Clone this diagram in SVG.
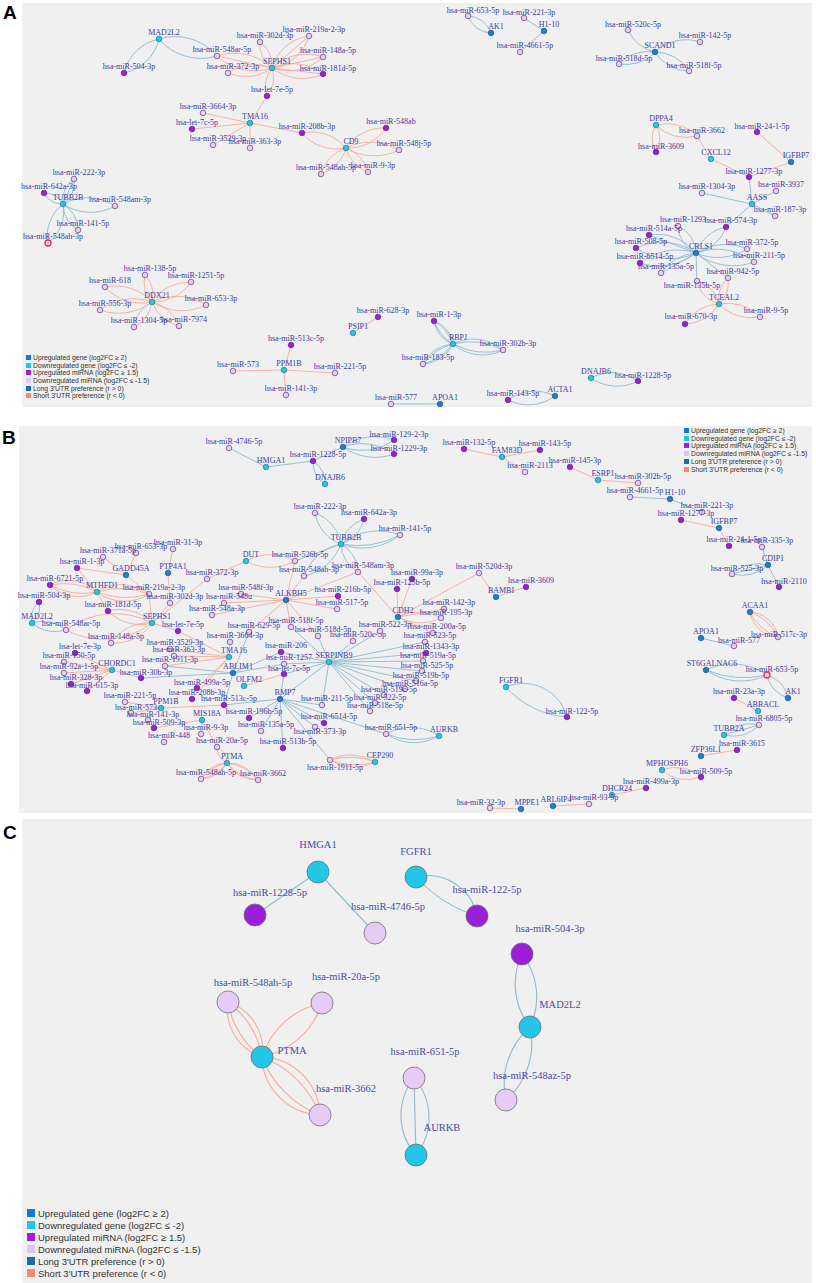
<svg xmlns="http://www.w3.org/2000/svg" width="816" height="1283" viewBox="0 0 816 1283">
<style>
.pa{fill:#f0f0f0}
.pl{font-family:"Liberation Sans",Arial,sans-serif;font-weight:bold;font-size:19px;fill:#000}
.e{fill:none;stroke-width:0.9}
.l{stroke:#8fbad0}
.s{stroke:#f8aa9c}
.ec{fill:none;stroke-width:1.1}
.ug{fill:#1a7fd6;stroke:#1b4a6e;stroke-width:0.6}
.dg{fill:#22c6e6;stroke:#1d6878;stroke-width:0.6}
.um{fill:#9b1fd9;stroke:#4b1a70;stroke-width:0.6}
.dm{fill:#e6ccf4;stroke:#6e4f86;stroke-width:0.8}
.rr{fill:#f2d6e6;stroke:#f0304c;stroke-width:1.3}
.nd text{font-family:"Liberation Serif","DejaVu Serif",serif;font-size:8px;fill:#3a3aa8;text-anchor:middle}
.nc text{font-family:"Liberation Serif","DejaVu Serif",serif;font-size:10.5px;fill:#4a4aa8;text-anchor:middle}
.nc circle{stroke:#707070;stroke-width:0.8}
.lg text{font-family:"Liberation Sans",Arial,sans-serif;fill:#333}
</style>
<rect width="816" height="1283" fill="#fff"/>
<rect class="pa" x="22" y="3" width="790" height="404"/>
<rect class="pa" x="19" y="426" width="793" height="387"/>
<rect class="pa" x="22" y="819" width="790" height="464"/>
<text class="pl" x="3" y="19">A</text>
<text class="pl" x="2" y="444">B</text>
<text class="pl" x="3" y="839">C</text>

<g id="connectors">
<g id="edgesA">
<path class="e l" d="M159 39A45 45 0 0 0 124 73M159 39A45 45 0 0 1 124 73"/>
<path class="e l" d="M159 39A55 55 0 0 0 217 56M159 39A55 55 0 0 1 217 56"/>
<path class="e l" d="M63 204A25 25 0 0 0 74 179M63 204A25 25 0 0 1 74 179M63 204L74 179"/>
<path class="e l" d="M63 204A20 20 0 0 0 44 193M63 204A20 20 0 0 1 44 193"/>
<path class="e l" d="M63 204A50 50 0 0 0 115 206M63 204A50 50 0 0 1 115 206"/>
<path class="e l" d="M63 204A30 30 0 0 0 78 230M63 204A30 30 0 0 1 78 230"/>
<path class="e l" d="M63 204A40 40 0 0 0 48 243M63 204A40 40 0 0 1 48 243"/>
<path class="e l" d="M491 33A25 25 0 0 0 468 16M491 33A25 25 0 0 1 468 16"/>
<path class="e l" d="M544 31L524 18M544 31L520 52"/>
<path class="e l" d="M655 52A40 40 0 0 1 628 30"/>
<path class="e l" d="M655 52A45 45 0 0 1 700 42"/>
<path class="e l" d="M655 52A40 40 0 0 0 619 64M655 52A40 40 0 0 1 619 64"/>
<path class="e l" d="M655 52A40 40 0 0 0 689 71M655 52A40 40 0 0 1 689 71"/>
<path class="e l" d="M752 204L749 177M752 204L702 193M752 204L776 191M752 204L775 216M752 204L726 227"/>
<path class="e l" d="M696 253A30 30 0 0 0 678 226M696 253A30 30 0 0 1 678 226"/>
<path class="e l" d="M696 253A40 40 0 0 0 726 227M696 253A40 40 0 0 1 726 227"/>
<path class="e l" d="M696 253A50 50 0 0 0 649 235M696 253L649 235"/>
<path class="e l" d="M696 253A60 60 0 0 0 636 248M696 253A60 60 0 0 1 636 248"/>
<path class="e l" d="M696 253A55 55 0 0 0 747 249M696 253A55 55 0 0 1 747 249"/>
<path class="e l" d="M696 253A60 60 0 0 0 640 263M696 253A60 60 0 0 1 640 263"/>
<path class="e l" d="M696 253A60 60 0 0 0 754 262M696 253A60 60 0 0 1 754 262"/>
<path class="e l" d="M696 253A45 45 0 0 0 661 273M696 253L661 273"/>
<path class="e l" d="M696 253L728 278M696 253L697 281"/>
<path class="e l" d="M453 344A28 28 0 0 0 434 321M453 344A28 28 0 0 1 434 321M453 344A45 45 0 0 0 434 321M453 344A45 45 0 0 1 434 321"/>
<path class="e l" d="M453 344A45 45 0 0 0 503 350M453 344A45 45 0 0 1 503 350M453 344A70 70 0 0 0 503 350M453 344A70 70 0 0 1 503 350"/>
<path class="e l" d="M453 344A35 35 0 0 0 423 364M453 344A35 35 0 0 1 423 364M453 344A55 55 0 0 0 423 364M453 344A55 55 0 0 1 423 364"/>
<path class="e l" d="M591 378A45 45 0 0 0 638 381M591 378A45 45 0 0 1 638 381"/>
<path class="e l" d="M555 396A45 45 0 0 0 508 400M555 396A45 45 0 0 1 508 400"/>
<path class="e l" d="M440 404L391 404"/>
<path class="e s" d="M272 68A55 55 0 0 0 217 56M272 68A55 55 0 0 1 217 56M272 68L217 56"/>
<path class="e s" d="M272 68A28 28 0 0 0 260 42M272 68A28 28 0 0 1 260 42"/>
<path class="e s" d="M272 68A45 45 0 0 0 309 36M272 68A45 45 0 0 1 309 36M272 68L309 36"/>
<path class="e s" d="M272 68A50 50 0 0 0 323 57M272 68A50 50 0 0 1 323 57M272 68L323 57"/>
<path class="e s" d="M272 68A45 45 0 0 0 228 73M272 68A45 45 0 0 1 228 73"/>
<path class="e s" d="M272 68A50 50 0 0 0 323 74M272 68A50 50 0 0 1 323 74M272 68L323 74"/>
<path class="e s" d="M272 68A30 30 0 0 0 267 96M272 68A30 30 0 0 1 267 96"/>
<path class="e s" d="M250 123L267 96M250 123L203 113M250 123L192 129M250 123L213 145M250 123L250 148M250 123L302 133"/>
<path class="e s" d="M346 148A45 45 0 0 0 302 133M346 148A45 45 0 0 1 302 133"/>
<path class="e s" d="M346 148A45 45 0 0 0 386 128M346 148A45 45 0 0 1 386 128"/>
<path class="e s" d="M346 148A55 55 0 0 0 399 150M346 148A55 55 0 0 1 399 150"/>
<path class="e s" d="M346 148A38 38 0 0 0 321 174M346 148A38 38 0 0 1 321 174"/>
<path class="e s" d="M346 148A35 35 0 0 0 368 172M346 148A35 35 0 0 1 368 172"/>
<path class="e s" d="M152 302A30 30 0 0 0 145 275M152 302A30 30 0 0 1 145 275"/>
<path class="e s" d="M152 302A45 45 0 0 0 191 282M152 302A45 45 0 0 1 191 282"/>
<path class="e s" d="M152 302A50 50 0 0 0 105 287M152 302A50 50 0 0 1 105 287"/>
<path class="e s" d="M152 302A55 55 0 0 0 206 305M152 302A55 55 0 0 1 206 305"/>
<path class="e s" d="M152 302A55 55 0 0 0 100 310M152 302A55 55 0 0 1 100 310"/>
<path class="e s" d="M152 302A32 32 0 0 0 134 327M152 302A32 32 0 0 1 134 327"/>
<path class="e s" d="M152 302A38 38 0 0 0 179 326M152 302A38 38 0 0 1 179 326"/>
<path class="e s" d="M284 370L291 345M284 370L233 371M284 370L335 373M284 370L286 395M353 333L378 317"/>
<path class="e s" d="M656 125A42 42 0 0 0 697 136M656 125A42 42 0 0 1 697 136"/>
<path class="e s" d="M656 125A25 25 0 0 0 656 152M656 125A25 25 0 0 1 656 152"/>
<path class="e s" d="M711 159L697 136M711 159L749 177M791 162L749 177M791 162L757 132"/>
<path class="e s" d="M719 304A30 30 0 0 0 697 281M719 304A30 30 0 0 1 697 281"/>
<path class="e s" d="M719 304A30 30 0 0 0 728 278M719 304A30 30 0 0 1 728 278"/>
<path class="e s" d="M719 304A40 40 0 0 0 685 324M719 304A40 40 0 0 1 685 324"/>
<path class="e s" d="M719 304A45 45 0 0 0 760 317M719 304A45 45 0 0 1 760 317"/>
</g>
<g id="edgesB">
<path class="e l" d="M266 467L229 448M266 467L313 461M343 447L313 461"/>
<path class="e l" d="M313 461A25 25 0 0 0 325 484M313 461A25 25 0 0 1 325 484"/>
<path class="e l" d="M343 447A55 55 0 0 0 394 440M343 447A55 55 0 0 1 394 440"/>
<path class="e l" d="M343 447A55 55 0 0 0 394 454M343 447A55 55 0 0 1 394 454"/>
<path class="e l" d="M341 544A40 40 0 0 0 315 513M341 544A40 40 0 0 1 315 513"/>
<path class="e l" d="M341 544A35 35 0 0 0 364 519M341 544A35 35 0 0 1 364 519"/>
<path class="e l" d="M341 544A60 60 0 0 0 400 535M341 544A60 60 0 0 1 400 535M341 544A90 90 0 0 0 400 535"/>
<path class="e l" d="M341 544A33 33 0 0 0 358 572M341 544A33 33 0 0 1 358 572"/>
<path class="e l" d="M341 544A50 50 0 0 0 304 576M341 544A50 50 0 0 1 304 576M341 544L295 561"/>
<path class="e l" d="M670 499L630 497M670 499L702 512"/>
<path class="e l" d="M768 565L762 547M768 565L779 587M768 565L732 574M768 565A38 38 0 0 0 732 574M768 565A38 38 0 0 1 732 574"/>
<path class="e l" d="M701 638L734 646"/>
<path class="e l" d="M706 670A60 60 0 0 0 767 675M706 670A60 60 0 0 1 767 675M706 670A100 100 0 0 0 767 675"/>
<path class="e l" d="M788 698A30 30 0 0 0 767 675M788 698A30 30 0 0 1 767 675"/>
<path class="e l" d="M724 735A35 35 0 0 0 759 725M724 735A35 35 0 0 1 759 725M724 735L759 725"/>
<path class="e l" d="M329 662L291 627M329 662L318 636M329 662L353 641M329 662L380 631M329 662L425 642M329 662L426 653M329 662L423 661M329 662L422 671M329 662L416 681M329 662L405 689M329 662L384 695M329 662L375 703M329 662L370 711M329 662L322 705M329 662L284 664M329 662L281 652M329 662L284 674"/>
<path class="e l" d="M233 673L249 632M233 673L281 652M233 673L284 664M233 673L165 666M233 673L141 678M233 673L224 705"/>
<path class="e l" d="M280 699L224 705M280 699L249 718M280 699L261 731M280 699L283 748M280 699L322 705M280 699L324 723M280 699L315 727M280 699L330 760M280 699L386 734M280 699L284 674M280 699L329 662"/>
<path class="e l" d="M386 734A50 50 0 0 0 439 736M386 734A50 50 0 0 1 439 736M386 734A80 80 0 0 0 439 736"/>
<path class="e l" d="M506 687A45 45 0 0 1 567 717M506 687A90 90 0 0 0 567 717"/>
<path class="e l" d="M32 623A20 20 0 0 0 39 602M32 623A20 20 0 0 1 39 602"/>
<path class="e l" d="M32 623A35 35 0 0 0 66 630M32 623A35 35 0 0 1 66 630"/>
<path class="e s" d="M502 457L464 449M502 457L540 450M502 457L525 472M598 480L570 467M598 480L638 483M719 528L681 520M719 528L729 546"/>
<path class="e s" d="M750 612A30 30 0 0 0 778 637M750 612A30 30 0 0 1 778 637M750 612A50 50 0 0 0 778 637M750 612A50 50 0 0 1 778 637"/>
<path class="e s" d="M758 711L734 698M701 756L737 750M612 795L646 788M553 806L589 804M521 809L490 808"/>
<path class="e s" d="M662 770A38 38 0 0 0 701 777M662 770A38 38 0 0 1 701 777"/>
<path class="e s" d="M496 597L479 573M496 597L526 587"/>
<path class="e s" d="M398 617L479 573M398 617L397 589M398 617L412 579M398 617L444 609M398 617L433 633M398 617L380 631M398 617L358 572M398 617A45 45 0 0 0 441 618M398 617A45 45 0 0 1 441 618"/>
<path class="e s" d="M286 600L241 594M286 600L224 603M286 600L212 615M286 600L338 596M286 600L337 609M286 600L358 572M286 600L295 561M286 600L291 627M286 600L318 636M286 600L249 632M286 600L304 576"/>
<path class="e s" d="M246 561A50 50 0 0 0 295 561M246 561A50 50 0 0 1 295 561M246 561L207 579"/>
<path class="e s" d="M126 575L103 557M126 575L136 553M126 575L77 568M126 575L149 594"/>
<path class="e s" d="M97 592A40 40 0 0 0 50 585M97 592A40 40 0 0 1 50 585M97 592A70 70 0 0 0 50 585M97 592A70 70 0 0 1 50 585"/>
<path class="e s" d="M97 592A45 45 0 0 0 149 594M97 592A45 45 0 0 1 149 594M97 592A80 80 0 0 0 149 594M97 592A80 80 0 0 1 149 594"/>
<path class="e s" d="M97 592L77 568M97 592L108 611M168 573L173 549M168 573L170 603"/>
<path class="e s" d="M152 623L149 594M152 623L170 603M152 623L207 579M152 623L178 631"/>
<path class="e s" d="M152 623A45 45 0 0 0 108 611M152 623A45 45 0 0 1 108 611M152 623A45 45 0 0 0 111 643M152 623A45 45 0 0 1 111 643M152 623A80 80 0 0 0 66 630M152 623A80 80 0 0 1 66 630"/>
<path class="e s" d="M112 670L75 653M112 670L64 662M112 670L64 673M112 670L71 684M112 670L87 691M112 670L141 678"/>
<path class="e s" d="M229 657L178 631M229 657L230 642M229 657L170 649M229 657L174 656M229 657L165 666M229 657L192 699M229 657L197 688M244 686L284 674"/>
<path class="e s" d="M161 708L125 702M161 708L131 713M161 708L148 720M161 708L224 705M202 720L154 728M202 720L201 734M202 720L217 747"/>
<path class="e s" d="M227 763A18 18 0 0 0 217 747M227 763A18 18 0 0 1 217 747"/>
<path class="e s" d="M227 763A30 30 0 0 0 201 779M227 763A30 30 0 0 1 201 779M227 763A45 45 0 0 0 201 779M227 763A45 45 0 0 1 201 779"/>
<path class="e s" d="M227 763A35 35 0 0 0 258 780M227 763A35 35 0 0 1 258 780M227 763A50 50 0 0 0 258 780M227 763A50 50 0 0 1 258 780"/>
<path class="e s" d="M375 762A45 45 0 0 0 330 760M375 762A45 45 0 0 1 330 760M375 762A70 70 0 0 0 330 760M375 762A70 70 0 0 1 330 760"/>
</g>
<g id="edgesC">
<path class="ec l" d="M318 872L255 915M318 872L375 933"/>
<path class="ec l" d="M416 877A50 50 0 0 1 477 916M416 877A140 140 0 0 0 477 916"/>
<path class="ec l" d="M522 954A70 70 0 0 0 530 1027M522 954A70 70 0 0 1 530 1027"/>
<path class="ec l" d="M530 1027A75 75 0 0 0 506 1100M530 1027A75 75 0 0 1 506 1100"/>
<path class="ec l" d="M414 1078A60 60 0 0 0 416 1155M414 1078A60 60 0 0 1 416 1155M414 1078L416 1155"/>
<path class="ec s" d="M262 1057A50 50 0 0 0 228 1002M262 1057A50 50 0 0 1 228 1002M262 1057A85 85 0 0 0 228 1002M262 1057A85 85 0 0 1 228 1002"/>
<path class="ec s" d="M262 1057A80 80 0 0 0 322 1003M262 1057A80 80 0 0 1 322 1003"/>
<path class="ec s" d="M262 1057A60 60 0 0 0 320 1115M262 1057A60 60 0 0 1 320 1115M262 1057A100 100 0 0 0 320 1115M262 1057A100 100 0 0 1 320 1115"/>
</g>
</g>

<g id="nodesA" class="nd">
<g id="a-MAD2L2"><circle class="dg" cx="159" cy="39" r="2.8"/><text x="164" y="35">MAD2L2</text></g>
<g id="a-miR-504-3p"><circle class="um" cx="124" cy="73" r="2.8"/><text x="129" y="69">hsa-miR-504-3p</text></g>
<g id="a-miR-548ar-5p"><circle class="dm" cx="217" cy="56" r="2.8"/><text x="222" y="52">hsa-miR-548ar-5p</text></g>
<g id="a-miR-302d-3p"><circle class="dm" cx="260" cy="42" r="2.8"/><text x="265" y="38">hsa-miR-302d-3p</text></g>
<g id="a-miR-219a-2-3p"><circle class="dm" cx="309" cy="36" r="2.8"/><text x="314" y="32">hsa-miR-219a-2-3p</text></g>
<g id="a-miR-148a-5p"><circle class="dm" cx="323" cy="57" r="2.8"/><text x="328" y="53">hsa-miR-148a-5p</text></g>
<g id="a-SEPHS1"><circle class="dg" cx="272" cy="68" r="2.8"/><text x="277" y="64">SEPHS1</text></g>
<g id="a-miR-372-3p"><circle class="dm" cx="228" cy="73" r="2.8"/><text x="233" y="69">hsa-miR-372-3p</text></g>
<g id="a-miR-181d-5p"><circle class="um" cx="323" cy="74" r="2.8"/><text x="328" y="71">hsa-miR-181d-5p</text></g>
<g id="a-let-7e-5p"><circle class="um" cx="267" cy="96" r="2.8"/><text x="272" y="92">hsa-let-7e-5p</text></g>
<g id="a-TMA16"><circle class="dg" cx="250" cy="123" r="2.8"/><text x="255" y="119">TMA16</text></g>
<g id="a-miR-3664-3p"><circle class="dm" cx="203" cy="113" r="2.8"/><text x="208" y="109">hsa-miR-3664-3p</text></g>
<g id="a-let-7c-5p"><circle class="um" cx="192" cy="129" r="2.8"/><text x="197" y="125">hsa-let-7c-5p</text></g>
<g id="a-miR-3529-3p"><circle class="dm" cx="213" cy="145" r="2.8"/><text x="218" y="141">hsa-miR-3529-3p</text></g>
<g id="a-miR-363-3p"><circle class="dm" cx="250" cy="148" r="2.8"/><text x="255" y="144">hsa-miR-363-3p</text></g>
<g id="a-miR-208b-3p"><circle class="um" cx="302" cy="133" r="2.8"/><text x="307" y="129">hsa-miR-208b-3p</text></g>
<g id="a-CD9"><circle class="dg" cx="346" cy="148" r="2.8"/><text x="351" y="144">CD9</text></g>
<g id="a-miR-548ab"><circle class="um" cx="386" cy="128" r="2.8"/><text x="391" y="124">hsa-miR-548ab</text></g>
<g id="a-miR-548j-5p"><circle class="dm" cx="399" cy="150" r="2.8"/><text x="404" y="146">hsa-miR-548j-5p</text></g>
<g id="a-miR-548ah-5p"><circle class="dm" cx="321" cy="174" r="2.8"/><text x="326" y="170">hsa-miR-548ah-5p</text></g>
<g id="a-miR-9-3p"><circle class="dm" cx="368" cy="172" r="2.8"/><text x="373" y="168">hsa-miR-9-3p</text></g>
<g id="a-TUBB2B"><circle class="dg" cx="63" cy="204" r="2.8"/><text x="68" y="200">TUBB2B</text></g>
<g id="a-miR-222-3p"><circle class="dm" cx="74" cy="179" r="2.8"/><text x="79" y="175">hsa-miR-222-3p</text></g>
<g id="a-miR-642a-3p"><circle class="um" cx="44" cy="193" r="2.8"/><text x="49" y="189">hsa-miR-642a-3p</text></g>
<g id="a-miR-548am-3p"><circle class="dm" cx="115" cy="206" r="2.8"/><text x="120" y="202">hsa-miR-548am-3p</text></g>
<g id="a-miR-141-5p"><circle class="dm" cx="78" cy="230" r="2.8"/><text x="83" y="226">hsa-miR-141-5p</text></g>
<g id="a-miR-548ah-3p"><circle class="rr" cx="48" cy="243" r="3"/><text x="53" y="239">hsa-miR-548ah-3p</text></g>
<g id="a-DDX21"><circle class="dg" cx="152" cy="302" r="2.8"/><text x="157" y="298">DDX21</text></g>
<g id="a-miR-138-5p"><circle class="dm" cx="145" cy="275" r="2.8"/><text x="150" y="271">hsa-miR-138-5p</text></g>
<g id="a-miR-1251-5p"><circle class="dm" cx="191" cy="282" r="2.8"/><text x="196" y="278">hsa-miR-1251-5p</text></g>
<g id="a-miR-618"><circle class="dm" cx="105" cy="287" r="2.8"/><text x="110" y="283">hsa-miR-618</text></g>
<g id="a-miR-653-3p"><circle class="dm" cx="206" cy="305" r="2.8"/><text x="211" y="301">hsa-miR-653-3p</text></g>
<g id="a-miR-556-3p"><circle class="dm" cx="100" cy="310" r="2.8"/><text x="105" y="306">hsa-miR-556-3p</text></g>
<g id="a-miR-1304-5p"><circle class="dm" cx="134" cy="327" r="2.8"/><text x="139" y="323">hsa-miR-1304-5p</text></g>
<g id="a-miR-7974"><circle class="dm" cx="179" cy="326" r="2.8"/><text x="184" y="322">hsa-miR-7974</text></g>
<g id="a-PPM1B"><circle class="dg" cx="284" cy="370" r="2.8"/><text x="289" y="366">PPM1B</text></g>
<g id="a-miR-513c-5p"><circle class="um" cx="291" cy="345" r="2.8"/><text x="296" y="341">hsa-miR-513c-5p</text></g>
<g id="a-miR-573"><circle class="dm" cx="233" cy="371" r="2.8"/><text x="238" y="367">hsa-miR-573</text></g>
<g id="a-miR-221-5p"><circle class="dm" cx="335" cy="373" r="2.8"/><text x="340" y="369">hsa-miR-221-5p</text></g>
<g id="a-miR-141-3p"><circle class="dm" cx="286" cy="395" r="2.8"/><text x="291" y="391">hsa-miR-141-3p</text></g>
<g id="a-PSIP1"><circle class="dg" cx="353" cy="333" r="2.8"/><text x="358" y="329">PSIP1</text></g>
<g id="a-miR-628-3p"><circle class="um" cx="378" cy="317" r="2.8"/><text x="383" y="313">hsa-miR-628-3p</text></g>
<g id="a-miR-577"><circle class="dm" cx="391" cy="404" r="2.8"/><text x="396" y="400">hsa-miR-577</text></g>
<g id="a-APOA1"><circle class="ug" cx="440" cy="404" r="2.8"/><text x="445" y="400">APOA1</text></g>
<g id="a-miR-143-5p"><circle class="um" cx="508" cy="400" r="2.8"/><text x="513" y="396">hsa-miR-143-5p</text></g>
<g id="a-ACTA1"><circle class="ug" cx="555" cy="396" r="2.8"/><text x="560" y="392">ACTA1</text></g>
<g id="a-DNAJB6"><circle class="dg" cx="591" cy="378" r="2.8"/><text x="596" y="374">DNAJB6</text></g>
<g id="a-miR-1228-5p"><circle class="um" cx="638" cy="381" r="2.8"/><text x="643" y="378">hsa-miR-1228-5p</text></g>
<g id="a-RBPJ"><circle class="dg" cx="453" cy="344" r="2.8"/><text x="458" y="340">RBPJ</text></g>
<g id="a-miR-1-3p"><circle class="um" cx="434" cy="321" r="2.8"/><text x="439" y="317">hsa-miR-1-3p</text></g>
<g id="a-miR-302b-3p"><circle class="dm" cx="503" cy="350" r="2.8"/><text x="508" y="346">hsa-miR-302b-3p</text></g>
<g id="a-miR-183-5p"><circle class="dm" cx="423" cy="364" r="2.8"/><text x="428" y="360">hsa-miR-183-5p</text></g>
<g id="a-CRLS1"><circle class="ug" cx="696" cy="253" r="2.8"/><text x="701" y="249">CRLS1</text></g>
<g id="a-miR-1293"><circle class="dm" cx="678" cy="226" r="2.8"/><text x="683" y="222">hsa-miR-1293</text></g>
<g id="a-miR-574-3p"><circle class="um" cx="726" cy="227" r="2.8"/><text x="731" y="223">hsa-miR-574-3p</text></g>
<g id="a-miR-514a-5p"><circle class="um" cx="649" cy="235" r="2.8"/><text x="654" y="231">hsa-miR-514a-5p</text></g>
<g id="a-miR-508-5p"><circle class="um" cx="636" cy="248" r="2.8"/><text x="641" y="244">hsa-miR-508-5p</text></g>
<g id="a-miR-372-5p"><circle class="dm" cx="747" cy="249" r="2.8"/><text x="752" y="245">hsa-miR-372-5p</text></g>
<g id="a-miR-6514-5p"><circle class="um" cx="640" cy="263" r="2.8"/><text x="645" y="259">hsa-miR-6514-5p</text></g>
<g id="a-miR-211-5p"><circle class="dm" cx="754" cy="262" r="2.8"/><text x="759" y="258">hsa-miR-211-5p</text></g>
<g id="a-miR-135a-5p"><circle class="dm" cx="661" cy="273" r="2.8"/><text x="666" y="269">hsa-miR-135a-5p</text></g>
<g id="a-miR-942-5p"><circle class="dm" cx="728" cy="278" r="2.8"/><text x="733" y="274">hsa-miR-942-5p</text></g>
<g id="a-miR-135b-5p"><circle class="dm" cx="697" cy="281" r="2.8"/><text x="692" y="288">hsa-miR-135b-5p</text></g>
<g id="a-TCEAL2"><circle class="dg" cx="719" cy="304" r="2.8"/><text x="724" y="300">TCEAL2</text></g>
<g id="a-miR-670-3p"><circle class="um" cx="685" cy="324" r="2.8"/><text x="691" y="319">hsa-miR-670-3p</text></g>
<g id="a-miR-9-5p"><circle class="dm" cx="760" cy="317" r="2.8"/><text x="766" y="313">hsa-miR-9-5p</text></g>
<g id="a-miR-187-3p"><circle class="dm" cx="775" cy="216" r="2.8"/><text x="780" y="212">hsa-miR-187-3p</text></g>
<g id="a-AASS"><circle class="dg" cx="752" cy="204" r="2.8"/><text x="757" y="200">AASS</text></g>
<g id="a-miR-653-5p"><circle class="dm" cx="468" cy="16" r="2.8"/><text x="473" y="13">hsa-miR-653-5p</text></g>
<g id="a-AK1"><circle class="ug" cx="491" cy="33" r="2.8"/><text x="496" y="29">AK1</text></g>
<g id="a-miR-221-3p"><circle class="dm" cx="524" cy="18" r="2.8"/><text x="529" y="15">hsa-miR-221-3p</text></g>
<g id="a-H1-10"><circle class="ug" cx="544" cy="31" r="2.8"/><text x="549" y="27">H1-10</text></g>
<g id="a-miR-4661-5p"><circle class="dm" cx="520" cy="52" r="2.8"/><text x="525" y="48">hsa-miR-4661-5p</text></g>
<g id="a-miR-520c-5p"><circle class="dm" cx="628" cy="30" r="2.8"/><text x="633" y="27">hsa-miR-520c-5p</text></g>
<g id="a-SCAND1"><circle class="ug" cx="655" cy="52" r="2.8"/><text x="660" y="48">SCAND1</text></g>
<g id="a-miR-142-5p"><circle class="dm" cx="700" cy="42" r="2.8"/><text x="705" y="38">hsa-miR-142-5p</text></g>
<g id="a-miR-518d-5p"><circle class="dm" cx="619" cy="64" r="2.8"/><text x="624" y="61">hsa-miR-518d-5p</text></g>
<g id="a-miR-518f-5p"><circle class="dm" cx="689" cy="71" r="2.8"/><text x="694" y="68">hsa-miR-518f-5p</text></g>
<g id="a-DPPA4"><circle class="dg" cx="656" cy="125" r="2.8"/><text x="661" y="121">DPPA4</text></g>
<g id="a-miR-3662"><circle class="dm" cx="697" cy="136" r="2.8"/><text x="702" y="133">hsa-miR-3662</text></g>
<g id="a-miR-3609"><circle class="um" cx="656" cy="152" r="2.8"/><text x="661" y="149">hsa-miR-3609</text></g>
<g id="a-CXCL12"><circle class="dg" cx="711" cy="159" r="2.8"/><text x="716" y="155">CXCL12</text></g>
<g id="a-miR-24-1-5p"><circle class="um" cx="757" cy="132" r="2.8"/><text x="762" y="129">hsa-miR-24-1-5p</text></g>
<g id="a-IGFBP7"><circle class="ug" cx="791" cy="162" r="2.8"/><text x="796" y="158">IGFBP7</text></g>
<g id="a-miR-1277-3p"><circle class="um" cx="749" cy="177" r="2.8"/><text x="754" y="174">hsa-miR-1277-3p</text></g>
<g id="a-miR-1304-3p"><circle class="dm" cx="702" cy="193" r="2.8"/><text x="707" y="189">hsa-miR-1304-3p</text></g>
<g id="a-miR-3937"><circle class="dm" cx="776" cy="191" r="2.8"/><text x="781" y="187">hsa-miR-3937</text></g>
</g>

<g id="nodesB" class="nd">
<g id="b-miR-4746-5p"><circle class="dm" cx="229" cy="448" r="2.8"/><text x="234" y="444">hsa-miR-4746-5p</text></g>
<g id="b-HMGA1"><circle class="dg" cx="266" cy="467" r="2.8"/><text x="271" y="463">HMGA1</text></g>
<g id="b-miR-1228-5p"><circle class="um" cx="313" cy="461" r="2.8"/><text x="318" y="457">hsa-miR-1228-5p</text></g>
<g id="b-DNAJB6"><circle class="dg" cx="325" cy="484" r="2.8"/><text x="330" y="480">DNAJB6</text></g>
<g id="b-NPIPB7"><circle class="ug" cx="343" cy="447" r="2.8"/><text x="348" y="443">NPIPB7</text></g>
<g id="b-miR-129-2-3p"><circle class="um" cx="394" cy="440" r="2.8"/><text x="399" y="437">hsa-miR-129-2-3p</text></g>
<g id="b-miR-1229-3p"><circle class="um" cx="394" cy="454" r="2.8"/><text x="399" y="451">hsa-miR-1229-3p</text></g>
<g id="b-miR-132-5p"><circle class="um" cx="464" cy="449" r="2.8"/><text x="469" y="445">hsa-miR-132-5p</text></g>
<g id="b-FAM83D"><circle class="dg" cx="502" cy="457" r="2.8"/><text x="507" y="453">FAM83D</text></g>
<g id="b-miR-143-5p"><circle class="um" cx="540" cy="450" r="2.8"/><text x="545" y="446">hsa-miR-143-5p</text></g>
<g id="b-miR-2113"><circle class="dm" cx="525" cy="472" r="2.8"/><text x="530" y="468">hsa-miR-2113</text></g>
<g id="b-miR-145-3p"><circle class="um" cx="570" cy="467" r="2.8"/><text x="575" y="463">hsa-miR-145-3p</text></g>
<g id="b-ESRP1"><circle class="dg" cx="598" cy="480" r="2.8"/><text x="603" y="476">ESRP1</text></g>
<g id="b-miR-302b-5p"><circle class="dm" cx="638" cy="483" r="2.8"/><text x="643" y="479">hsa-miR-302b-5p</text></g>
<g id="b-miR-4661-5p"><circle class="dm" cx="630" cy="497" r="2.8"/><text x="635" y="493">hsa-miR-4661-5p</text></g>
<g id="b-H1-10"><circle class="ug" cx="670" cy="499" r="2.8"/><text x="675" y="495">H1-10</text></g>
<g id="b-miR-221-3p"><circle class="dm" cx="702" cy="512" r="2.8"/><text x="707" y="508">hsa-miR-221-3p</text></g>
<g id="b-miR-1277-3p"><circle class="um" cx="681" cy="520" r="2.8"/><text x="686" y="516">hsa-miR-1277-3p</text></g>
<g id="b-IGFBP7"><circle class="ug" cx="719" cy="528" r="2.8"/><text x="724" y="524">IGFBP7</text></g>
<g id="b-miR-24-1-5p"><circle class="um" cx="729" cy="546" r="2.8"/><text x="734" y="542">hsa-miR-24-1-5p</text></g>
<g id="b-miR-335-3p"><circle class="dm" cx="762" cy="547" r="2.8"/><text x="767" y="543">hsa-miR-335-3p</text></g>
<g id="b-CDIP1"><circle class="ug" cx="768" cy="565" r="2.8"/><text x="773" y="561">CDIP1</text></g>
<g id="b-miR-525-3p"><circle class="dm" cx="732" cy="574" r="2.8"/><text x="737" y="571">hsa-miR-525-3p</text></g>
<g id="b-miR-2110"><circle class="um" cx="779" cy="587" r="2.8"/><text x="784" y="584">hsa-miR-2110</text></g>
<g id="b-ACAA1"><circle class="ug" cx="750" cy="612" r="2.8"/><text x="755" y="608">ACAA1</text></g>
<g id="b-miR-517c-3p"><circle class="dm" cx="778" cy="637" r="2.8"/><text x="779" y="637">hsa-miR-517c-3p</text></g>
<g id="b-APOA1"><circle class="ug" cx="701" cy="638" r="2.8"/><text x="706" y="634">APOA1</text></g>
<g id="b-miR-577"><circle class="dm" cx="734" cy="646" r="2.8"/><text x="739" y="643">hsa-miR-577</text></g>
<g id="b-ST6GALNAC6"><circle class="ug" cx="706" cy="670" r="2.8"/><text x="712" y="666">ST6GALNAC6</text></g>
<g id="b-miR-653-5p"><circle class="rr" cx="767" cy="675" r="3"/><text x="772" y="672">hsa-miR-653-5p</text></g>
<g id="b-AK1"><circle class="ug" cx="788" cy="698" r="2.8"/><text x="793" y="694">AK1</text></g>
<g id="b-miR-23a-3p"><circle class="um" cx="734" cy="698" r="2.8"/><text x="739" y="694">hsa-miR-23a-3p</text></g>
<g id="b-ABRACL"><circle class="dg" cx="758" cy="711" r="2.8"/><text x="763" y="707">ABRACL</text></g>
<g id="b-miR-6805-5p"><circle class="dm" cx="759" cy="725" r="2.8"/><text x="764" y="721">hsa-miR-6805-5p</text></g>
<g id="b-TUBB2A"><circle class="dg" cx="724" cy="735" r="2.8"/><text x="729" y="731">TUBB2A</text></g>
<g id="b-ZFP36L1"><circle class="ug" cx="701" cy="756" r="2.8"/><text x="706" y="752">ZFP36L1</text></g>
<g id="b-miR-3615"><circle class="um" cx="737" cy="750" r="2.8"/><text x="742" y="746">hsa-miR-3615</text></g>
<g id="b-MPHOSPH6"><circle class="dg" cx="662" cy="770" r="2.8"/><text x="667" y="766">MPHOSPH6</text></g>
<g id="b-miR-509-5p"><circle class="um" cx="701" cy="777" r="2.8"/><text x="706" y="774">hsa-miR-509-5p</text></g>
<g id="b-miR-499a-3p"><circle class="um" cx="646" cy="788" r="2.8"/><text x="651" y="784">hsa-miR-499a-3p</text></g>
<g id="b-DHCR24"><circle class="dg" cx="612" cy="795" r="2.8"/><text x="617" y="791">DHCR24</text></g>
<g id="b-miR-93-5p"><circle class="dm" cx="589" cy="804" r="2.8"/><text x="594" y="800">hsa-miR-93-5p</text></g>
<g id="b-ARL6IP4"><circle class="ug" cx="553" cy="806" r="2.8"/><text x="556" y="802">ARL6IP4</text></g>
<g id="b-MPPE1"><circle class="ug" cx="521" cy="809" r="2.8"/><text x="527" y="805">MPPE1</text></g>
<g id="b-miR-32-3p"><circle class="dm" cx="490" cy="808" r="2.8"/><text x="481" y="805">hsa-miR-32-3p</text></g>
<g id="b-miR-222-3p"><circle class="dm" cx="315" cy="513" r="2.8"/><text x="320" y="509">hsa-miR-222-3p</text></g>
<g id="b-miR-642a-3p"><circle class="um" cx="364" cy="519" r="2.8"/><text x="369" y="515">hsa-miR-642a-3p</text></g>
<g id="b-miR-141-5p"><circle class="dm" cx="400" cy="535" r="2.8"/><text x="405" y="531">hsa-miR-141-5p</text></g>
<g id="b-TUBB2B"><circle class="dg" cx="341" cy="544" r="2.8"/><text x="346" y="540">TUBB2B</text></g>
<g id="b-miR-548am-3p"><circle class="dm" cx="358" cy="572" r="2.8"/><text x="363" y="568">hsa-miR-548am-3p</text></g>
<g id="b-miR-548ah-3p"><circle class="dm" cx="304" cy="576" r="2.8"/><text x="309" y="572">hsa-miR-548ah-3p</text></g>
<g id="b-miR-526b-5p"><circle class="dm" cx="295" cy="561" r="2.8"/><text x="300" y="557">hsa-miR-526b-5p</text></g>
<g id="b-DUT"><circle class="dg" cx="246" cy="561" r="2.8"/><text x="251" y="557">DUT</text></g>
<g id="b-miR-372-3p"><circle class="dm" cx="207" cy="579" r="2.8"/><text x="212" y="575">hsa-miR-372-3p</text></g>
<g id="b-PTP4A1"><circle class="ug" cx="168" cy="573" r="2.8"/><text x="173" y="569">PTP4A1</text></g>
<g id="b-miR-31-3p"><circle class="dm" cx="173" cy="549" r="2.8"/><text x="178" y="545">hsa-miR-31-3p</text></g>
<g id="b-miR-653-3p"><circle class="dm" cx="136" cy="553" r="2.8"/><text x="141" y="549">hsa-miR-653-3p</text></g>
<g id="b-miR-371a-5p"><circle class="dm" cx="103" cy="557" r="2.8"/><text x="108" y="553">hsa-miR-371a-5p</text></g>
<g id="b-GADD45A"><circle class="ug" cx="126" cy="575" r="2.8"/><text x="131" y="571">GADD45A</text></g>
<g id="b-miR-1-3p"><circle class="um" cx="77" cy="568" r="2.8"/><text x="82" y="564">hsa-miR-1-3p</text></g>
<g id="b-miR-6721-5p"><circle class="um" cx="50" cy="585" r="2.8"/><text x="55" y="581">hsa-miR-6721-5p</text></g>
<g id="b-MTHFD1"><circle class="dg" cx="97" cy="592" r="2.8"/><text x="102" y="588">MTHFD1</text></g>
<g id="b-miR-219a-2-3p"><circle class="dm" cx="149" cy="594" r="2.8"/><text x="154" y="590">hsa-miR-219a-2-3p</text></g>
<g id="b-miR-504-3p"><circle class="um" cx="39" cy="602" r="2.8"/><text x="44" y="598">hsa-miR-504-3p</text></g>
<g id="b-miR-302d-3p"><circle class="dm" cx="170" cy="603" r="2.8"/><text x="175" y="599">hsa-miR-302d-3p</text></g>
<g id="b-miR-181d-5p"><circle class="um" cx="108" cy="611" r="2.8"/><text x="113" y="607">hsa-miR-181d-5p</text></g>
<g id="b-miR-548f-3p"><circle class="dm" cx="241" cy="594" r="2.8"/><text x="246" y="590">hsa-miR-548f-3p</text></g>
<g id="b-miR-548u"><circle class="dm" cx="224" cy="603" r="2.8"/><text x="229" y="599">hsa-miR-548u</text></g>
<g id="b-miR-548a-3p"><circle class="dm" cx="212" cy="615" r="2.8"/><text x="217" y="611">hsa-miR-548a-3p</text></g>
<g id="b-ALKBH5"><circle class="ug" cx="286" cy="600" r="2.8"/><text x="291" y="596">ALKBH5</text></g>
<g id="b-MAD2L2"><circle class="dg" cx="32" cy="623" r="2.8"/><text x="37" y="619">MAD2L2</text></g>
<g id="b-miR-548ar-5p"><circle class="dm" cx="66" cy="630" r="2.8"/><text x="71" y="626">hsa-miR-548ar-5p</text></g>
<g id="b-SEPHS1"><circle class="dg" cx="152" cy="623" r="2.8"/><text x="157" y="619">SEPHS1</text></g>
<g id="b-miR-148a-5p"><circle class="dm" cx="111" cy="643" r="2.8"/><text x="116" y="639">hsa-miR-148a-5p</text></g>
<g id="b-let-7e-5p"><circle class="um" cx="178" cy="631" r="2.8"/><text x="183" y="627">hsa-let-7e-5p</text></g>
<g id="b-miR-629-5p"><circle class="dm" cx="249" cy="632" r="2.8"/><text x="254" y="628">hsa-miR-629-5p</text></g>
<g id="b-miR-3664-3p"><circle class="dm" cx="230" cy="642" r="2.8"/><text x="235" y="638">hsa-miR-3664-3p</text></g>
<g id="b-let-7e-3p"><circle class="um" cx="75" cy="653" r="2.8"/><text x="80" y="649">hsa-let-7e-3p</text></g>
<g id="b-miR-150-5p"><circle class="dm" cx="64" cy="662" r="2.8"/><text x="69" y="658">hsa-miR-150-5p</text></g>
<g id="b-miR-92a-1-5p"><circle class="dm" cx="64" cy="673" r="2.8"/><text x="69" y="669">hsa-miR-92a-1-5p</text></g>
<g id="b-miR-328-3p"><circle class="um" cx="71" cy="684" r="2.8"/><text x="76" y="680">hsa-miR-328-3p</text></g>
<g id="b-miR-615-3p"><circle class="um" cx="87" cy="691" r="2.8"/><text x="92" y="688">hsa-miR-615-3p</text></g>
<g id="b-CHORDC1"><circle class="dg" cx="112" cy="670" r="2.8"/><text x="117" y="666">CHORDC1</text></g>
<g id="b-miR-30b-3p"><circle class="um" cx="141" cy="678" r="2.8"/><text x="146" y="675">hsa-miR-30b-3p</text></g>
<g id="b-miR-3529-3p"><circle class="dm" cx="170" cy="649" r="2.8"/><text x="175" y="645">hsa-miR-3529-3p</text></g>
<g id="b-miR-363-3p"><circle class="dm" cx="174" cy="656" r="2.8"/><text x="179" y="652">hsa-miR-363-3p</text></g>
<g id="b-miR-1911-3p"><circle class="dm" cx="165" cy="666" r="2.8"/><text x="170" y="662">hsa-miR-1911-3p</text></g>
<g id="b-TMA16"><circle class="dg" cx="229" cy="657" r="2.8"/><text x="234" y="653">TMA16</text></g>
<g id="b-ABLIM1"><circle class="ug" cx="233" cy="673" r="2.8"/><text x="238" y="669">ABLIM1</text></g>
<g id="b-miR-499a-5p"><circle class="um" cx="197" cy="688" r="2.8"/><text x="202" y="685">hsa-miR-499a-5p</text></g>
<g id="b-miR-208b-3p"><circle class="um" cx="192" cy="699" r="2.8"/><text x="197" y="695">hsa-miR-208b-3p</text></g>
<g id="b-OLFM2"><circle class="dg" cx="244" cy="686" r="2.8"/><text x="249" y="682">OLFM2</text></g>
<g id="b-miR-221-5p"><circle class="dm" cx="125" cy="702" r="2.8"/><text x="130" y="698">hsa-miR-221-5p</text></g>
<g id="b-PPM1B"><circle class="dg" cx="161" cy="708" r="2.8"/><text x="166" y="704">PPM1B</text></g>
<g id="b-miR-573"><circle class="dm" cx="131" cy="713" r="2.8"/><text x="136" y="710">hsa-miR-573</text></g>
<g id="b-miR-141-3p"><circle class="dm" cx="148" cy="720" r="2.8"/><text x="153" y="717">hsa-miR-141-3p</text></g>
<g id="b-miR-513c-5p"><circle class="um" cx="224" cy="705" r="2.8"/><text x="229" y="701">hsa-miR-513c-5p</text></g>
<g id="b-MIS18A"><circle class="dg" cx="202" cy="720" r="2.8"/><text x="207" y="716">MIS18A</text></g>
<g id="b-miR-509-3p"><circle class="um" cx="154" cy="728" r="2.8"/><text x="159" y="725">hsa-miR-509-3p</text></g>
<g id="b-miR-9-3p"><circle class="dm" cx="201" cy="734" r="2.8"/><text x="206" y="730">hsa-miR-9-3p</text></g>
<g id="b-miR-448"><circle class="dm" cx="164" cy="742" r="2.8"/><text x="169" y="738">hsa-miR-448</text></g>
<g id="b-miR-20a-5p"><circle class="dm" cx="217" cy="747" r="2.8"/><text x="222" y="743">hsa-miR-20a-5p</text></g>
<g id="b-PTMA"><circle class="dg" cx="227" cy="763" r="2.8"/><text x="232" y="759">PTMA</text></g>
<g id="b-miR-548ah-5p"><circle class="dm" cx="201" cy="779" r="2.8"/><text x="206" y="775">hsa-miR-548ah-5p</text></g>
<g id="b-miR-3662"><circle class="dm" cx="258" cy="780" r="2.8"/><text x="263" y="776">hsa-miR-3662</text></g>
<g id="b-BMP7"><circle class="ug" cx="280" cy="699" r="2.8"/><text x="285" y="695">BMP7</text></g>
<g id="b-miR-196b-5p"><circle class="um" cx="249" cy="718" r="2.8"/><text x="254" y="714">hsa-miR-196b-5p</text></g>
<g id="b-miR-135a-5p"><circle class="dm" cx="261" cy="731" r="2.8"/><text x="266" y="727">hsa-miR-135a-5p</text></g>
<g id="b-miR-513b-5p"><circle class="um" cx="283" cy="748" r="2.8"/><text x="288" y="744">hsa-miR-513b-5p</text></g>
<g id="b-miR-206"><circle class="um" cx="281" cy="652" r="2.8"/><text x="286" y="648">hsa-miR-206</text></g>
<g id="b-miR-1257"><circle class="dm" cx="284" cy="664" r="2.8"/><text x="289" y="660">hsa-miR-1257</text></g>
<g id="b-let-7c-5p"><circle class="um" cx="284" cy="674" r="2.8"/><text x="289" y="671">hsa-let-7c-5p</text></g>
<g id="b-miR-216b-5p"><circle class="um" cx="338" cy="596" r="2.8"/><text x="343" y="592">hsa-miR-216b-5p</text></g>
<g id="b-miR-517-5p"><circle class="dm" cx="337" cy="609" r="2.8"/><text x="342" y="605">hsa-miR-517-5p</text></g>
<g id="b-miR-99a-3p"><circle class="um" cx="412" cy="579" r="2.8"/><text x="417" y="575">hsa-miR-99a-3p</text></g>
<g id="b-miR-125b-5p"><circle class="um" cx="397" cy="589" r="2.8"/><text x="402" y="585">hsa-miR-125b-5p</text></g>
<g id="b-CDH2"><circle class="ug" cx="398" cy="617" r="2.8"/><text x="403" y="613">CDH2</text></g>
<g id="b-miR-518f-5p"><circle class="dm" cx="291" cy="627" r="2.8"/><text x="296" y="623">hsa-miR-518f-5p</text></g>
<g id="b-miR-518d-5p"><circle class="dm" cx="318" cy="636" r="2.8"/><text x="323" y="632">hsa-miR-518d-5p</text></g>
<g id="b-miR-520c-5p"><circle class="dm" cx="353" cy="641" r="2.8"/><text x="358" y="637">hsa-miR-520c-5p</text></g>
<g id="b-miR-522-3p"><circle class="dm" cx="380" cy="631" r="2.8"/><text x="385" y="627">hsa-miR-522-3p</text></g>
<g id="b-SERPINB9"><circle class="dg" cx="329" cy="662" r="2.8"/><text x="334" y="658">SERPINB9</text></g>
<g id="b-miR-142-3p"><circle class="dm" cx="444" cy="609" r="2.8"/><text x="449" y="605">hsa-miR-142-3p</text></g>
<g id="b-miR-195-3p"><circle class="dm" cx="441" cy="618" r="2.8"/><text x="446" y="615">hsa-miR-195-3p</text></g>
<g id="b-miR-200a-5p"><circle class="dm" cx="433" cy="633" r="2.8"/><text x="438" y="629">hsa-miR-200a-5p</text></g>
<g id="b-miR-523-5p"><circle class="dm" cx="425" cy="642" r="2.8"/><text x="430" y="638">hsa-miR-523-5p</text></g>
<g id="b-miR-1343-3p"><circle class="um" cx="426" cy="653" r="2.8"/><text x="431" y="649">hsa-miR-1343-3p</text></g>
<g id="b-miR-519a-5p"><circle class="dm" cx="423" cy="661" r="2.8"/><text x="428" y="658">hsa-miR-519a-5p</text></g>
<g id="b-miR-525-5p"><circle class="dm" cx="422" cy="671" r="2.8"/><text x="427" y="668">hsa-miR-525-5p</text></g>
<g id="b-miR-519b-5p"><circle class="dm" cx="416" cy="681" r="2.8"/><text x="421" y="678">hsa-miR-519b-5p</text></g>
<g id="b-miR-516a-5p"><circle class="dm" cx="405" cy="689" r="2.8"/><text x="410" y="686">hsa-miR-516a-5p</text></g>
<g id="b-miR-519c-5p"><circle class="dm" cx="384" cy="695" r="2.8"/><text x="389" y="692">hsa-miR-519c-5p</text></g>
<g id="b-miR-522-5p"><circle class="dm" cx="375" cy="703" r="2.8"/><text x="380" y="700">hsa-miR-522-5p</text></g>
<g id="b-miR-518e-5p"><circle class="dm" cx="370" cy="711" r="2.8"/><text x="375" y="708">hsa-miR-518e-5p</text></g>
<g id="b-miR-211-5p"><circle class="dm" cx="322" cy="705" r="2.8"/><text x="327" y="701">hsa-miR-211-5p</text></g>
<g id="b-miR-6514-5p"><circle class="um" cx="324" cy="723" r="2.8"/><text x="329" y="719">hsa-miR-6514-5p</text></g>
<g id="b-miR-373-3p"><circle class="dm" cx="315" cy="727" r="2.8"/><text x="320" y="734">hsa-miR-373-3p</text></g>
<g id="b-miR-651-5p"><circle class="dm" cx="386" cy="734" r="2.8"/><text x="391" y="730">hsa-miR-651-5p</text></g>
<g id="b-AURKB"><circle class="dg" cx="439" cy="736" r="2.8"/><text x="444" y="732">AURKB</text></g>
<g id="b-miR-1911-5p"><circle class="dm" cx="330" cy="760" r="2.8"/><text x="335" y="770">hsa-miR-1911-5p</text></g>
<g id="b-CEP290"><circle class="dg" cx="375" cy="762" r="2.8"/><text x="380" y="758">CEP290</text></g>
<g id="b-FGFR1"><circle class="dg" cx="506" cy="687" r="2.8"/><text x="511" y="683">FGFR1</text></g>
<g id="b-miR-122-5p"><circle class="um" cx="567" cy="717" r="2.8"/><text x="572" y="714">hsa-miR-122-5p</text></g>
<g id="b-miR-520d-3p"><circle class="dm" cx="479" cy="573" r="2.8"/><text x="484" y="569">hsa-miR-520d-3p</text></g>
<g id="b-BAMBI"><circle class="ug" cx="496" cy="597" r="2.8"/><text x="501" y="593">BAMBI</text></g>
<g id="b-miR-3609"><circle class="um" cx="526" cy="587" r="2.8"/><text x="531" y="583">hsa-miR-3609</text></g>
</g>

<g id="nodesC" class="nc">
<g id="c-HMGA1"><circle class="dg" cx="318" cy="872" r="11"/><text x="318" y="848">HMGA1</text></g>
<g id="c-miR-1228-5p"><circle class="um" cx="255" cy="915" r="11"/><text x="270" y="896">hsa-miR-1228-5p</text></g>
<g id="c-miR-4746-5p"><circle class="dm" cx="375" cy="933" r="11"/><text x="388" y="910">hsa-miR-4746-5p</text></g>
<g id="c-FGFR1"><circle class="dg" cx="416" cy="877" r="11"/><text x="416" y="855">FGFR1</text></g>
<g id="c-miR-122-5p"><circle class="um" cx="477" cy="916" r="11"/><text x="487" y="893">hsa-miR-122-5p</text></g>
<g id="c-miR-504-3p"><circle class="um" cx="522" cy="954" r="11"/><text x="550" y="932">hsa-miR-504-3p</text></g>
<g id="c-MAD2L2"><circle class="dg" cx="530" cy="1027" r="11"/><text x="560" y="1008">MAD2L2</text></g>
<g id="c-miR-548az-5p"><circle class="dm" cx="506" cy="1100" r="11"/><text x="532" y="1079">hsa-miR-548az-5p</text></g>
<g id="c-miR-548ah-5p"><circle class="dm" cx="228" cy="1002" r="11"/><text x="253" y="986">hsa-miR-548ah-5p</text></g>
<g id="c-miR-20a-5p"><circle class="dm" cx="322" cy="1003" r="11"/><text x="346" y="980">hsa-miR-20a-5p</text></g>
<g id="c-PTMA"><circle class="dg" cx="262" cy="1057" r="11"/><text x="292" y="1054">PTMA</text></g>
<g id="c-miR-3662"><circle class="dm" cx="320" cy="1115" r="11"/><text x="346" y="1092">hsa-miR-3662</text></g>
<g id="c-miR-651-5p"><circle class="dm" cx="414" cy="1078" r="11"/><text x="425" y="1055">hsa-miR-651-5p</text></g>
<g id="c-AURKB"><circle class="dg" cx="416" cy="1155" r="11"/><text x="442" y="1131">AURKB</text></g>
</g>

<g id="legendA" class="lg" font-size="6.8">
<rect x="26" y="355" width="5" height="5" fill="#0a7ed8"/><text x="33" y="360">Upregulated gene (log2FC ≥ 2)</text>
<rect x="26" y="363" width="5" height="5" fill="#1fc6e8"/><text x="33" y="368">Downregulated gene (log2FC ≤ -2)</text>
<rect x="26" y="370" width="5" height="5" fill="#a01ee0"/><text x="33" y="375">Upregulated miRNA (log2FC ≥ 1.5)</text>
<rect x="26" y="378" width="5" height="5" fill="#e0c4f5"/><text x="33" y="383">Downregulated miRNA (log2FC ≤ -1.5)</text>
<rect x="26" y="386" width="5" height="5" fill="#1a70a0"/><text x="33" y="391">Long 3'UTR preference (r &gt; 0)</text>
<rect x="26" y="393" width="5" height="5" fill="#f58a72"/><text x="33" y="398">Short 3'UTR preference (r &lt; 0)</text>
</g>
<g id="legendB" class="lg" font-size="6.8">
<rect x="684" y="428" width="5" height="5" fill="#0a7ed8"/><text x="691" y="433">Upregulated gene (log2FC ≥ 2)</text>
<rect x="684" y="436" width="5" height="5" fill="#1fc6e8"/><text x="691" y="441">Downregulated gene (log2FC ≤ -2)</text>
<rect x="684" y="443" width="5" height="5" fill="#a01ee0"/><text x="691" y="448">Upregulated miRNA (log2FC ≥ 1.5)</text>
<rect x="684" y="451" width="5" height="5" fill="#e0c4f5"/><text x="691" y="456">Downregulated miRNA (log2FC ≤ -1.5)</text>
<rect x="684" y="459" width="5" height="5" fill="#1a70a0"/><text x="691" y="464">Long 3'UTR preference (r &gt; 0)</text>
<rect x="684" y="467" width="5" height="5" fill="#f58a72"/><text x="691" y="472">Short 3'UTR preference (r &lt; 0)</text>
</g>
<g id="legendC" class="lg" font-size="9.5">
<rect x="27" y="1209" width="8" height="8" fill="#0a7ed8"/><text x="38" y="1217">Upregulated gene (log2FC ≥ 2)</text>
<rect x="27" y="1221" width="8" height="8" fill="#1fc6e8"/><text x="38" y="1229">Downregulated gene (log2FC ≤ -2)</text>
<rect x="27" y="1233" width="8" height="8" fill="#a01ee0"/><text x="38" y="1241">Upregulated miRNA (log2FC ≥ 1.5)</text>
<rect x="27" y="1245" width="8" height="8" fill="#e0c4f5"/><text x="38" y="1253">Downregulated miRNA (log2FC ≤ -1.5)</text>
<rect x="27" y="1257" width="8" height="8" fill="#1a70a0"/><text x="38" y="1265">Long 3'UTR preference (r &gt; 0)</text>
<rect x="27" y="1269" width="8" height="8" fill="#f58a72"/><text x="38" y="1277">Short 3'UTR preference (r &lt; 0)</text>
</g>
</svg>
